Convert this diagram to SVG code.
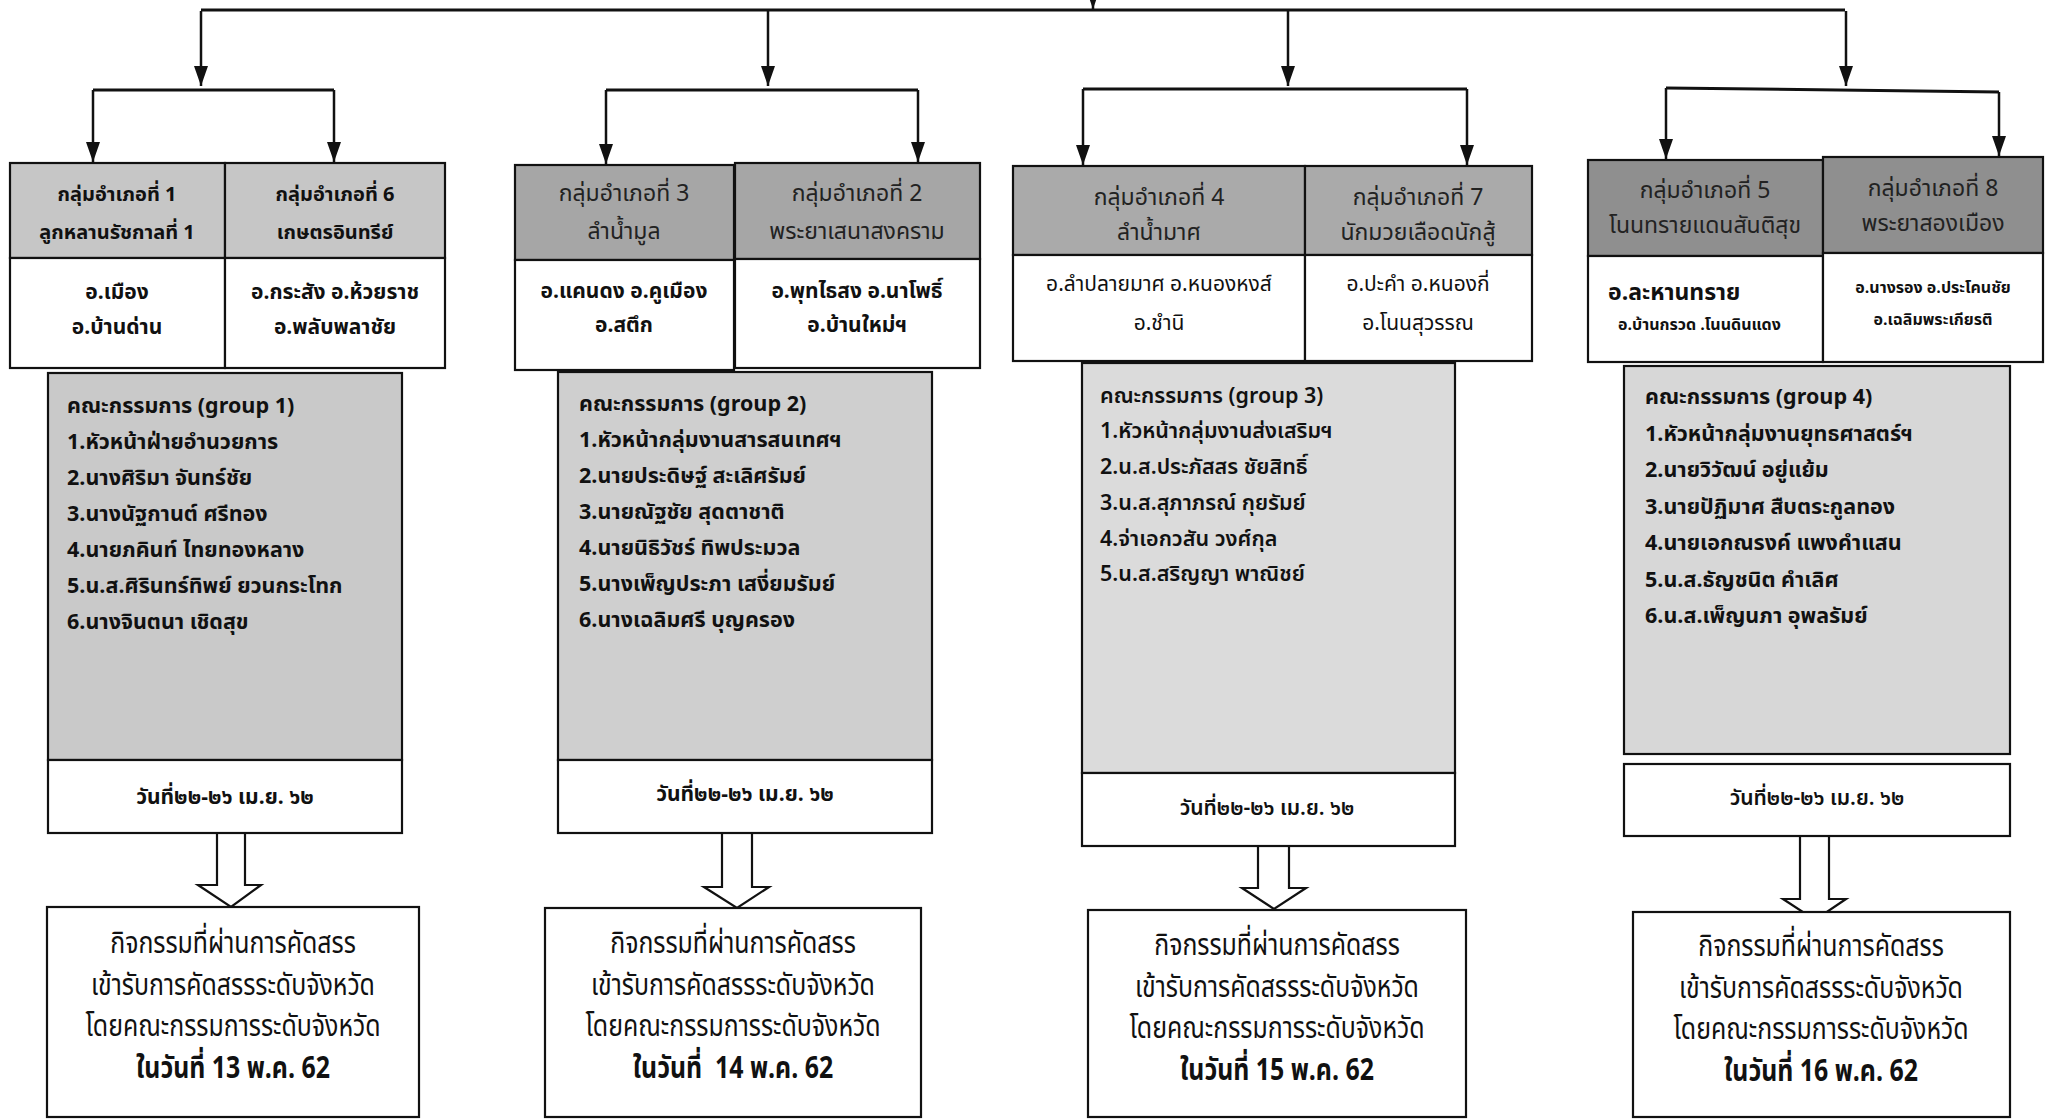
<svg xmlns="http://www.w3.org/2000/svg" width="2048" height="1119" viewBox="0 0 2048 1119">
<style>
  .bg{fill:#ffffff}
  .ln{stroke:#111;stroke-width:2.5;fill:none}
  .hb{stroke:#111;stroke-width:3;fill:none}
  .box{stroke:#111;stroke-width:2.2}
  .w{fill:#ffffff}
  .h1{fill:#c6c6c6}
  .h2{fill:#a6a6a6}
  .h3{fill:#aaaaaa}
  .h4{fill:#8f8f8f}
  .c1{fill:#c9c9c9}
  .c2{fill:#cfcfcf}
  .c3{fill:#dbdbdb}
  .c4{fill:#d7d7d7}
  text{font-family:Tahoma,"Noto Sans Thai","Noto Sans","DejaVu Sans",sans-serif;fill:#111}
  .ht{font-size:20px;text-anchor:middle}
  .hr{font-size:23px;text-anchor:middle;fill:#222}
  .rt{font-size:21px;text-anchor:middle}
  .b{font-weight:bold}
  .m{font-weight:600}
  .cm{font-size:21.5px}
  .dt{font-size:21px;text-anchor:middle}
  .fn{font-size:30px;text-anchor:middle}
  .hollow{fill:#ffffff;stroke:#111;stroke-width:2.2}
</style>
<defs>
  <marker id="ah" markerUnits="userSpaceOnUse" viewBox="0 0 20 14" refX="20" refY="7" markerWidth="20" markerHeight="14" orient="auto">
    <path d="M0,0 L20,7 L0,14 z" fill="#111"/>
  </marker>
</defs>
<rect class="bg" x="0" y="0" width="2048" height="1119"/>

<g id="connectors">
  <line class="hb" x1="201" y1="10" x2="1845" y2="10"/>
  <line class="ln" x1="1093" y1="-12" x2="1093" y2="9" marker-end="url(#ah)"/>
  <line class="ln" x1="201" y1="11" x2="201" y2="86" marker-end="url(#ah)"/>
  <line class="ln" x1="768" y1="11" x2="768" y2="86" marker-end="url(#ah)"/>
  <line class="ln" x1="1288" y1="11" x2="1288" y2="86" marker-end="url(#ah)"/>
  <line class="ln" x1="1846" y1="11" x2="1846" y2="86" marker-end="url(#ah)"/>
  <line class="hb" x1="93" y1="90" x2="334" y2="90"/>
  <line class="hb" x1="606" y1="90" x2="918" y2="90"/>
  <line class="hb" x1="1083" y1="89" x2="1467" y2="89"/>
  <line class="hb" x1="1666" y1="88" x2="1999" y2="92"/>
  <line class="ln" x1="93" y1="90" x2="93" y2="162" marker-end="url(#ah)"/>
  <line class="ln" x1="334" y1="90" x2="334" y2="162" marker-end="url(#ah)"/>
  <line class="ln" x1="606" y1="90" x2="606" y2="164" marker-end="url(#ah)"/>
  <line class="ln" x1="918" y1="90" x2="918" y2="162" marker-end="url(#ah)"/>
  <line class="ln" x1="1083" y1="89" x2="1083" y2="165" marker-end="url(#ah)"/>
  <line class="ln" x1="1467" y1="89" x2="1467" y2="165" marker-end="url(#ah)"/>
  <line class="ln" x1="1666" y1="88" x2="1666" y2="159" marker-end="url(#ah)"/>
  <line class="ln" x1="1999" y1="92" x2="1999" y2="156" marker-end="url(#ah)"/>
  <path class="hollow" d="M217,833 L245,833 L245,885 L261,885 L231,907 L198,885 L217,885 Z"/>
  <path class="hollow" d="M722,833 L752,833 L752,887 L769,887 L737,908 L704,887 L722,887 Z"/>
  <path class="hollow" d="M1258,846 L1289,846 L1289,888 L1306,888 L1274,909 L1242,888 L1258,888 Z"/>
  <path class="hollow" d="M1800,836 L1829,836 L1829,899 L1846,899 L1815,920 L1783,899 L1800,899 Z"/>
</g>

<!-- Group 1 -->
<g id="amphoe-1">
  <rect class="box h1" x="10" y="163" width="215" height="95"/>
  <text class="ht b" x="117" y="201">กลุ่มอำเภอที่ 1</text>
  <text class="ht b" x="117" y="239">ลูกหลานรัชกาลที่ 1</text>
  <rect class="box w" x="10" y="258" width="215" height="110"/>
  <text class="rt b" x="117" y="299">อ.เมือง</text>
  <text class="rt b" x="117" y="334">อ.บ้านด่าน</text>
</g>
<g id="amphoe-6">
  <rect class="box h1" x="225" y="163" width="220" height="95"/>
  <text class="ht b" x="335" y="201">กลุ่มอำเภอที่ 6</text>
  <text class="ht b" x="335" y="239">เกษตรอินทรีย์</text>
  <rect class="box w" x="225" y="258" width="220" height="110"/>
  <text class="rt b" x="335" y="299" font-size="22">อ.กระสัง อ.ห้วยราช</text>
  <text class="rt b" x="335" y="334" font-size="22">อ.พลับพลาชัย</text>
</g>
<g id="committee-1">
  <rect class="box c1" x="48" y="373" width="354" height="387"/>
  <text class="cm b" x="67" y="413">คณะกรรมการ (group 1)</text>
  <text class="cm b" x="67" y="449">1.หัวหน้าฝ่ายอำนวยการ</text>
  <text class="cm b" x="67" y="485">2.นางศิริมา  จันทร์ชัย</text>
  <text class="cm b" x="67" y="521">3.นางนัฐกานต์  ศรีทอง</text>
  <text class="cm b" x="67" y="557">4.นายภคินท์  ไทยทองหลาง</text>
  <text class="cm b" x="67" y="593">5.น.ส.ศิรินทร์ทิพย์  ยวนกระโทก</text>
  <text class="cm b" x="67" y="629">6.นางจินตนา  เชิดสุข</text>
  <rect class="box w" x="48" y="760" width="354" height="73"/>
  <text class="dt b" x="225" y="804">วันที่๒๒-๒๖ เม.ย. ๖๒</text>
</g>
<g id="result-1">
  <rect class="box w" x="47" y="907" width="372" height="210"/>
  <g transform="translate(233,0) scale(0.83,1)">
    <text class="fn" x="0" y="953">กิจกรรมที่ผ่านการคัดสรร</text>
    <text class="fn" x="0" y="995">เข้ารับการคัดสรรระดับจังหวัด</text>
    <text class="fn" x="0" y="1036">โดยคณะกรรมการระดับจังหวัด</text>
    <text class="fn b" x="0" y="1078">ในวันที่ 13 พ.ค. 62</text>
  </g>
</g>

<!-- Group 2 -->
<g id="amphoe-3">
  <rect class="box h2" x="515" y="165" width="219" height="95"/>
  <text class="hr" x="624" y="201">กลุ่มอำเภอที่ 3</text>
  <text class="hr" x="624" y="239">ลำน้ำมูล</text>
  <rect class="box w" x="515" y="260" width="219" height="110"/>
  <text class="rt b" x="624" y="298">อ.แคนดง อ.คูเมือง</text>
  <text class="rt b" x="624" y="332">อ.สตึก</text>
</g>
<g id="amphoe-2">
  <rect class="box h2" x="735" y="163" width="245" height="96"/>
  <text class="hr" x="857" y="201">กลุ่มอำเภอที่ 2</text>
  <text class="hr" x="857" y="239">พระยาเสนาสงคราม</text>
  <rect class="box w" x="735" y="259" width="245" height="109"/>
  <text class="rt b" x="857" y="298">อ.พุทไธสง อ.นาโพธิ์</text>
  <text class="rt b" x="857" y="332">อ.บ้านใหม่ฯ</text>
</g>
<g id="committee-2">
  <rect class="box c2" x="558" y="372" width="374" height="388"/>
  <text class="cm b" x="579" y="411">คณะกรรมการ (group 2)</text>
  <text class="cm b" x="579" y="447">1.หัวหน้ากลุ่มงานสารสนเทศฯ</text>
  <text class="cm b" x="579" y="483">2.นายประดิษฐ์  สะเลิศรัมย์</text>
  <text class="cm b" x="579" y="519">3.นายณัฐชัย  สุดตาชาติ</text>
  <text class="cm b" x="579" y="555">4.นายนิธิวัชร์  ทิพประมวล</text>
  <text class="cm b" x="579" y="591">5.นางเพ็ญประภา  เสงี่ยมรัมย์</text>
  <text class="cm b" x="579" y="627">6.นางเฉลิมศรี  บุญครอง</text>
  <rect class="box w" x="558" y="760" width="374" height="73"/>
  <text class="dt b" x="745" y="801">วันที่๒๒-๒๖ เม.ย. ๖๒</text>
</g>
<g id="result-2">
  <rect class="box w" x="545" y="908" width="376" height="209"/>
  <g transform="translate(733,0) scale(0.83,1)">
    <text class="fn" x="0" y="953">กิจกรรมที่ผ่านการคัดสรร</text>
    <text class="fn" x="0" y="995">เข้ารับการคัดสรรระดับจังหวัด</text>
    <text class="fn" x="0" y="1036">โดยคณะกรรมการระดับจังหวัด</text>
    <text class="fn b" x="0" y="1078" xml:space="preserve">ในวันที่  14 พ.ค. 62</text>
  </g>
</g>

<!-- Group 3 -->
<g id="amphoe-4">
  <rect class="box h3" x="1013" y="166" width="292" height="89"/>
  <text class="hr" x="1159" y="205">กลุ่มอำเภอที่ 4</text>
  <text class="hr" x="1159" y="240">ลำน้ำมาศ</text>
  <rect class="box w" x="1013" y="255" width="292" height="106"/>
  <text class="rt" x="1159" y="291">อ.ลำปลายมาศ อ.หนองหงส์</text>
  <text class="rt" x="1159" y="330">อ.ชำนิ</text>
</g>
<g id="amphoe-7">
  <rect class="box h3" x="1305" y="166" width="227" height="89"/>
  <text class="hr" x="1418" y="205">กลุ่มอำเภอที่ 7</text>
  <text class="hr" x="1418" y="240">นักมวยเลือดนักสู้</text>
  <rect class="box w" x="1305" y="255" width="227" height="106"/>
  <text class="rt" x="1418" y="291">อ.ปะคำ อ.หนองกี่</text>
  <text class="rt" x="1418" y="330">อ.โนนสุวรรณ</text>
</g>
<g id="committee-3">
  <rect class="box c3" x="1082" y="363" width="373" height="410"/>
  <text class="cm m" x="1100" y="403">คณะกรรมการ (group 3)</text>
  <text class="cm m" x="1100" y="438">1.หัวหน้ากลุ่มงานส่งเสริมฯ</text>
  <text class="cm m" x="1100" y="474">2.น.ส.ประภัสสร  ชัยสิทธิ์</text>
  <text class="cm m" x="1100" y="510">3.น.ส.สุภาภรณ์  กุยรัมย์</text>
  <text class="cm m" x="1100" y="546">4.จ่าเอกวสัน  วงศ์กุล</text>
  <text class="cm m" x="1100" y="581">5.น.ส.สริญญา  พาณิชย์</text>
  <rect class="box w" x="1082" y="773" width="373" height="73"/>
  <text class="dt m" x="1267" y="815">วันที่๒๒-๒๖ เม.ย. ๖๒</text>
</g>
<g id="result-3">
  <rect class="box w" x="1088" y="910" width="378" height="207"/>
  <g transform="translate(1277,0) scale(0.83,1)">
    <text class="fn" x="0" y="955">กิจกรรมที่ผ่านการคัดสรร</text>
    <text class="fn" x="0" y="997">เข้ารับการคัดสรรระดับจังหวัด</text>
    <text class="fn" x="0" y="1038">โดยคณะกรรมการระดับจังหวัด</text>
    <text class="fn b" x="0" y="1080">ในวันที่ 15 พ.ค. 62</text>
  </g>
</g>

<!-- Group 4 -->
<g id="amphoe-5">
  <rect class="box h4" x="1588" y="160" width="235" height="96"/>
  <text class="hr" x="1705" y="198" font-size="21">กลุ่มอำเภอที่ 5</text>
  <text class="hr" x="1705" y="233" font-size="21">โนนทรายแดนสันติสุข</text>
  <rect class="box w" x="1588" y="256" width="235" height="106"/>
  <text class="b" x="1608" y="300" font-size="23">อ.ละหานทราย</text>
  <text class="b" x="1618" y="330" font-size="16">อ.บ้านกรวด .โนนดินแดง</text>
</g>
<g id="amphoe-8">
  <rect class="box h4" x="1823" y="157" width="220" height="96"/>
  <text class="hr" x="1933" y="196" font-size="21">กลุ่มอำเภอที่ 8</text>
  <text class="hr" x="1933" y="231" font-size="21">พระยาสองเมือง</text>
  <rect class="box w" x="1823" y="253" width="220" height="109"/>
  <text class="b" x="1933" y="293" font-size="16" text-anchor="middle">อ.นางรอง อ.ประโคนชัย</text>
  <text class="b" x="1933" y="325" font-size="16" text-anchor="middle">อ.เฉลิมพระเกียรติ</text>
</g>
<g id="committee-4">
  <rect class="box c4" x="1624" y="366" width="386" height="388"/>
  <text class="cm b" x="1645" y="404">คณะกรรมการ (group 4)</text>
  <text class="cm b" x="1645" y="441">1.หัวหน้ากลุ่มงานยุทธศาสตร์ฯ</text>
  <text class="cm b" x="1645" y="477">2.นายวิวัฒน์  อยู่แย้ม</text>
  <text class="cm b" x="1645" y="514">3.นายปัฏิมาศ  สืบตระกูลทอง</text>
  <text class="cm b" x="1645" y="550">4.นายเอกณรงค์  แพงคำแสน</text>
  <text class="cm b" x="1645" y="587">5.น.ส.ธัญชนิต  คำเลิศ</text>
  <text class="cm b" x="1645" y="623">6.น.ส.เพ็ญนภา  อุพลรัมย์</text>
</g>
<g id="date-4">
  <rect class="box w" x="1624" y="764" width="386" height="72"/>
  <text class="dt m" x="1817" y="805">วันที่๒๒-๒๖ เม.ย. ๖๒</text>
</g>
<g id="result-4">
  <rect class="box w" x="1633" y="912" width="377" height="205"/>
  <g transform="translate(1821,0) scale(0.83,1)">
    <text class="fn" x="0" y="956">กิจกรรมที่ผ่านการคัดสรร</text>
    <text class="fn" x="0" y="998">เข้ารับการคัดสรรระดับจังหวัด</text>
    <text class="fn" x="0" y="1039">โดยคณะกรรมการระดับจังหวัด</text>
    <text class="fn b" x="0" y="1081">ในวันที่ 16 พ.ค. 62</text>
  </g>
</g>
</svg>
